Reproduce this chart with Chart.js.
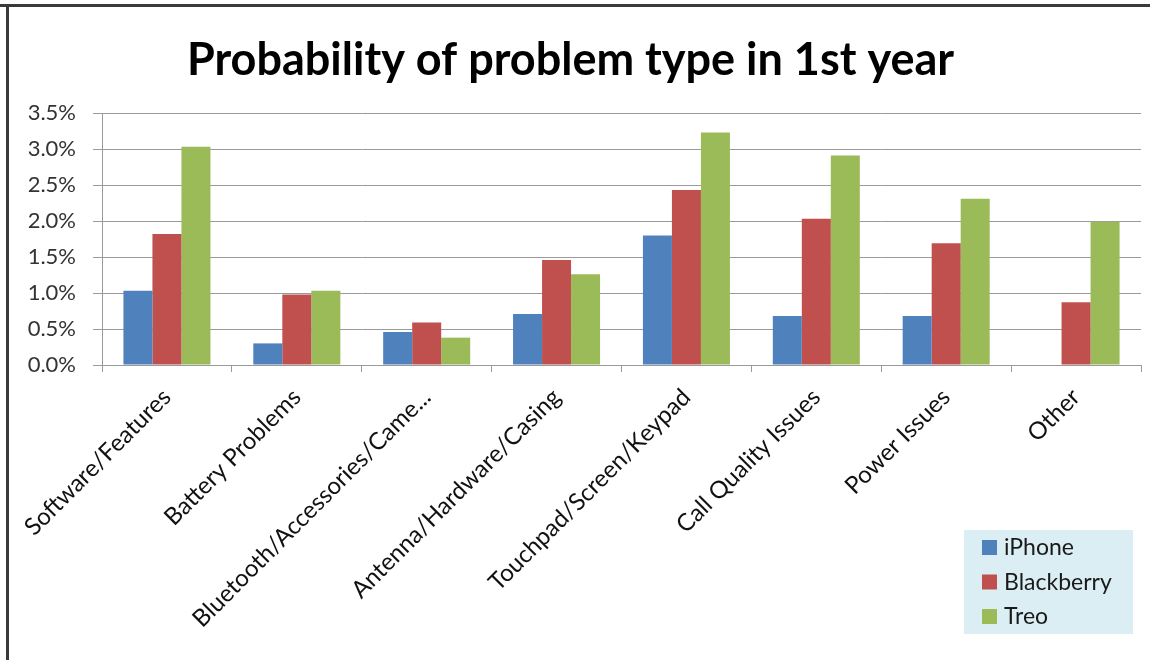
<!DOCTYPE html>
<html>
<head>
<meta charset="utf-8">
<script src="https://cdn.jsdelivr.net/npm/chart.js@4.4.1/dist/chart.umd.min.js"></script>
<style>
    html, body { margin: 0; padding: 0; background: #fff; }
    #wrap { width: 1150px; height: 660px; position: relative; }
</style>
</head>
<body>
<div id="wrap"><canvas id="problemChart" width="1150" height="660"></canvas></div>
<script>
const categories = [
    'Software/Features',
    'Battery Problems',
    'Bluetooth/Accessories/Came...',
    'Antenna/Hardware/Casing',
    'Touchpad/Screen/Keypad',
    'Call Quality Issues',
    'Power Issues',
    'Other'
];
const seriesNames = ['iPhone', 'Blackberry', 'Treo'];
const iphone = [1.03, 0.30, 0.46, 0.71, 1.80, 0.68, 0.68, 0];
const blackberry = [1.82, 0.98, 0.59, 1.46, 2.43, 2.03, 1.69, 0.87];
const treo = [3.03, 1.03, 0.38, 1.26, 3.23, 2.91, 2.31, 1.99];
const seriesColors = ['#4f81bd', '#c0504d', '#9bbb59'];
const yTicks = [0, 0.5, 1.0, 1.5, 2.0, 2.5, 3.0, 3.5];

const FONT = 'Lato, "Open Sans", sans-serif';

// white page with the dark frame on top and left
const framePlugin = {
    id: 'frame',
    beforeDraw(chart) {
        const ctx = chart.ctx;
        ctx.save();
        ctx.fillStyle = '#ffffff';
        ctx.fillRect(0, 0, chart.width, chart.height);
        ctx.fillStyle = '#3a3a3a';
        ctx.fillRect(0, 4, chart.width, 3);
        ctx.fillRect(6, 4, 3, chart.height);
        ctx.restore();
    }
};

// boxed legend in the lower right corner
const boxLegend = {
    id: 'boxLegend',
    afterDraw(chart) {
        const ctx = chart.ctx;
        ctx.save();
        ctx.fillStyle = '#dbeef4';
        ctx.fillRect(964, 530, 169, 104);
        ctx.font = '23px ' + FONT;
        ctx.textBaseline = 'middle';
        chart.data.datasets.forEach(function (ds, i) {
            const y = 547 + i * 34.5;
            ctx.fillStyle = ds.backgroundColor;
            ctx.fillRect(982, y - 7, 15, 15);
            ctx.fillStyle = '#1a1a1a';
            ctx.fillText(ds.label, 1004, y + 1);
        });
        ctx.restore();
    }
};

const ctx = document.getElementById('problemChart').getContext('2d');
new Chart(ctx, {
    type: 'bar',
    data: {
        labels: categories,
        datasets: [
            { label: seriesNames[0], data: iphone, backgroundColor: seriesColors[0] },
            { label: seriesNames[1], data: blackberry, backgroundColor: seriesColors[1] },
            { label: seriesNames[2], data: treo, backgroundColor: seriesColors[2] }
        ]
    },
    options: {
        responsive: false,
        animation: false,
        categoryPercentage: 0.67,
        barPercentage: 1.0,
        layout: { padding: { left: 0, right: 9, top: 0, bottom: 0 } },
        plugins: {
            legend: { display: false },
            tooltip: { enabled: false },
            title: {
                display: true,
                text: 'Probability of problem type in 1st year',
                color: '#000',
                font: { family: FONT, size: 45, weight: 'bold' },
                padding: { top: 33, bottom: 26 }
            }
        },
        scales: {
            x: {
                grid: {
                    drawOnChartArea: false,
                    drawTicks: true,
                    tickLength: 7,
                    color: '#9a9a9a'
                },
                border: { color: '#9a9a9a', width: 1 },
                ticks: {
                    color: '#111',
                    font: { family: FONT, size: 24 },
                    maxRotation: 45,
                    minRotation: 45,
                    autoSkip: false,
                    padding: 11
                },
                afterFit(scale) { scale.height = 295; }
            },
            y: {
                min: 0,
                max: 3.5,
                afterBuildTicks(scale) {
                    scale.ticks = yTicks.map(function (v) { return { value: v }; });
                },
                grid: {
                    color: '#9a9a9a',
                    tickLength: 9,
                    lineWidth: 1
                },
                border: { color: '#9a9a9a', width: 1 },
                ticks: {
                    color: '#333',
                    font: { family: FONT, size: 22 },
                    padding: 17,
                    callback: function (v) { return Number(v).toFixed(1) + '%'; }
                },
                afterFit(scale) { scale.width = 102; }
            }
        }
    },
    plugins: [framePlugin, boxLegend]
});
</script>
</body>
</html>
